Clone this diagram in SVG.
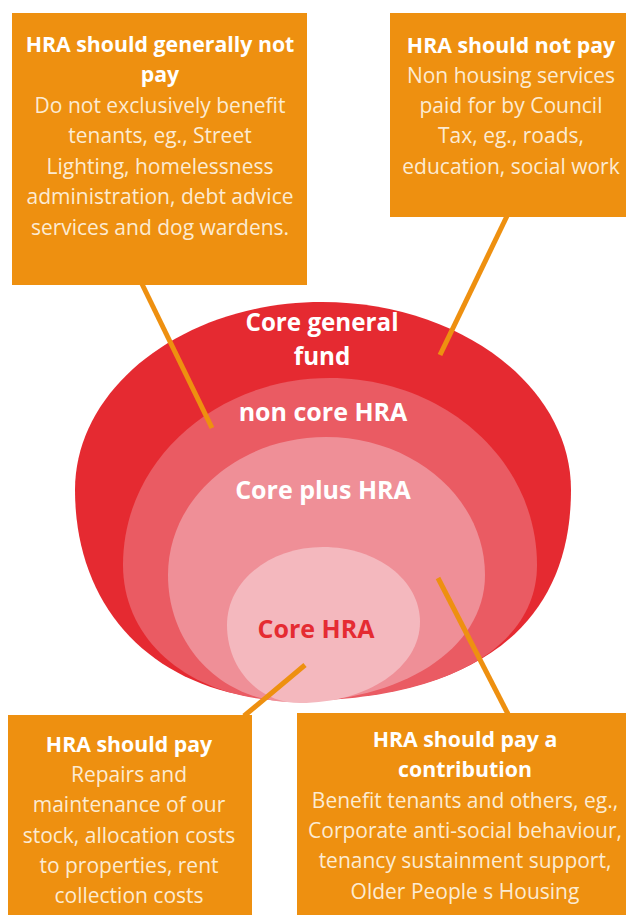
<svg xmlns="http://www.w3.org/2000/svg" width="626" height="915" viewBox="0 0 626 915">
  <style>
    .box { fill: #EE9010; }
    .head { font-family: "Open Sans", "Noto Sans", "Liberation Sans", sans-serif; font-weight: 700; font-size: 21.3px; fill: #FFFFFF; text-anchor: middle; }
    .body { font-family: "Open Sans", "Noto Sans", "Liberation Sans", sans-serif; font-weight: 400; font-size: 21px; fill: #FCEBD2; text-anchor: middle; }
    .ring { font-family: "Open Sans", "Noto Sans", "Liberation Sans", sans-serif; font-weight: 700; font-size: 25px; fill: #FFFFFF; text-anchor: middle; }
    .ring.top { font-size: 24.2px; }
    .core { fill: #E52B32; }
    .link { stroke: #EE9010; stroke-width: 5; fill: none; }
  </style>

  <rect width="626" height="915" fill="#FFFFFF"/>

  <!-- nested funding rings -->
  <g id="ring-general">
    <path d="M322,302 C459,302 571,386 571,490 C571,627 474,700 295,700 C163,700 75,616 75,490 C75,386 186,302 322,302 Z" fill="#E52A31"/>
    <text class="ring top" x="322" y="331">Core general</text>
    <text class="ring top" x="322" y="364.5">fund</text>
  </g>
  <g id="ring-noncore">
    <path d="M330,378 C444,378 537,460 537,565 C537,650 440,701 292,701 C196,701 123,645 123,565 C123,460 216,378 330,378 Z" fill="#EA5B63"/>
    <text class="ring" x="323" y="421">non core HRA</text>
  </g>
  <g id="ring-coreplus">
    <path d="M326,437 C413,437 485,498 485,575 C485,650 400,702 292,702 C224,702 168,648 168,575 C168,498 239,437 326,437 Z" fill="#EF8F97"/>
    <text class="ring" x="323" y="499">Core plus HRA</text>
  </g>
  <g id="ring-core">
    <path d="M323,547 C377,547 420,580 420,622 C420,667 368,703 300,703 C258,703 227,668 227,625 C227,581 270,547 323,547 Z" fill="#F4B8BE"/>
    <text class="ring core" x="316" y="638">Core HRA</text>
  </g>

  <!-- leader lines -->
  <g id="connectors">
    <line class="link" x1="142" y1="284" x2="212" y2="428"/>
    <line class="link" x1="507" y1="216" x2="440" y2="355"/>
    <line class="link" x1="305" y1="665" x2="244" y2="716"/>
    <line class="link" x1="438" y1="578" x2="508" y2="714"/>
  </g>

  <!-- callout boxes -->
  <g id="generally-not-pay">
    <rect class="box" x="12" y="13" width="295" height="272"/>
    <text class="head" x="160" y="52">HRA should generally not</text>
    <text class="head" x="160" y="82">pay</text>
    <text class="body" x="160" y="113">Do not exclusively benefit</text>
    <text class="body" x="160" y="143">tenants, eg., Street</text>
    <text class="body" x="160" y="174">Lighting, homelessness</text>
    <text class="body" x="160" y="204">administration, debt advice</text>
    <text class="body" x="160" y="235">services and dog wardens.</text>
  </g>

  <g id="not-pay">
    <rect class="box" x="390" y="13" width="236" height="204"/>
    <text class="head" x="511" y="53">HRA should not pay</text>
    <text class="body" x="511" y="83">Non housing services</text>
    <text class="body" x="511" y="113">paid for by Council</text>
    <text class="body" x="511" y="143">Tax, eg., roads,</text>
    <text class="body" x="511" y="174">education, social work</text>
  </g>

  <g id="should-pay">
    <rect class="box" x="8" y="715" width="244" height="200"/>
    <text class="head" x="129" y="752">HRA should pay</text>
    <text class="body" x="129" y="782">Repairs and</text>
    <text class="body" x="129" y="812">maintenance of our</text>
    <text class="body" x="129" y="843">stock, allocation costs</text>
    <text class="body" x="129" y="873">to properties, rent</text>
    <text class="body" x="129" y="903">collection costs</text>
  </g>

  <g id="pay-contribution">
    <rect class="box" x="297" y="713" width="329" height="202"/>
    <text class="head" x="465" y="747">HRA should pay a</text>
    <text class="head" x="465" y="777">contribution</text>
    <text class="body" x="465" y="808">Benefit tenants and others, eg.,</text>
    <text class="body" x="465" y="838">Corporate anti-social behaviour,</text>
    <text class="body" x="465" y="868">tenancy sustainment support,</text>
    <text class="body" x="465" y="899">Older People s Housing</text>
  </g>
</svg>
